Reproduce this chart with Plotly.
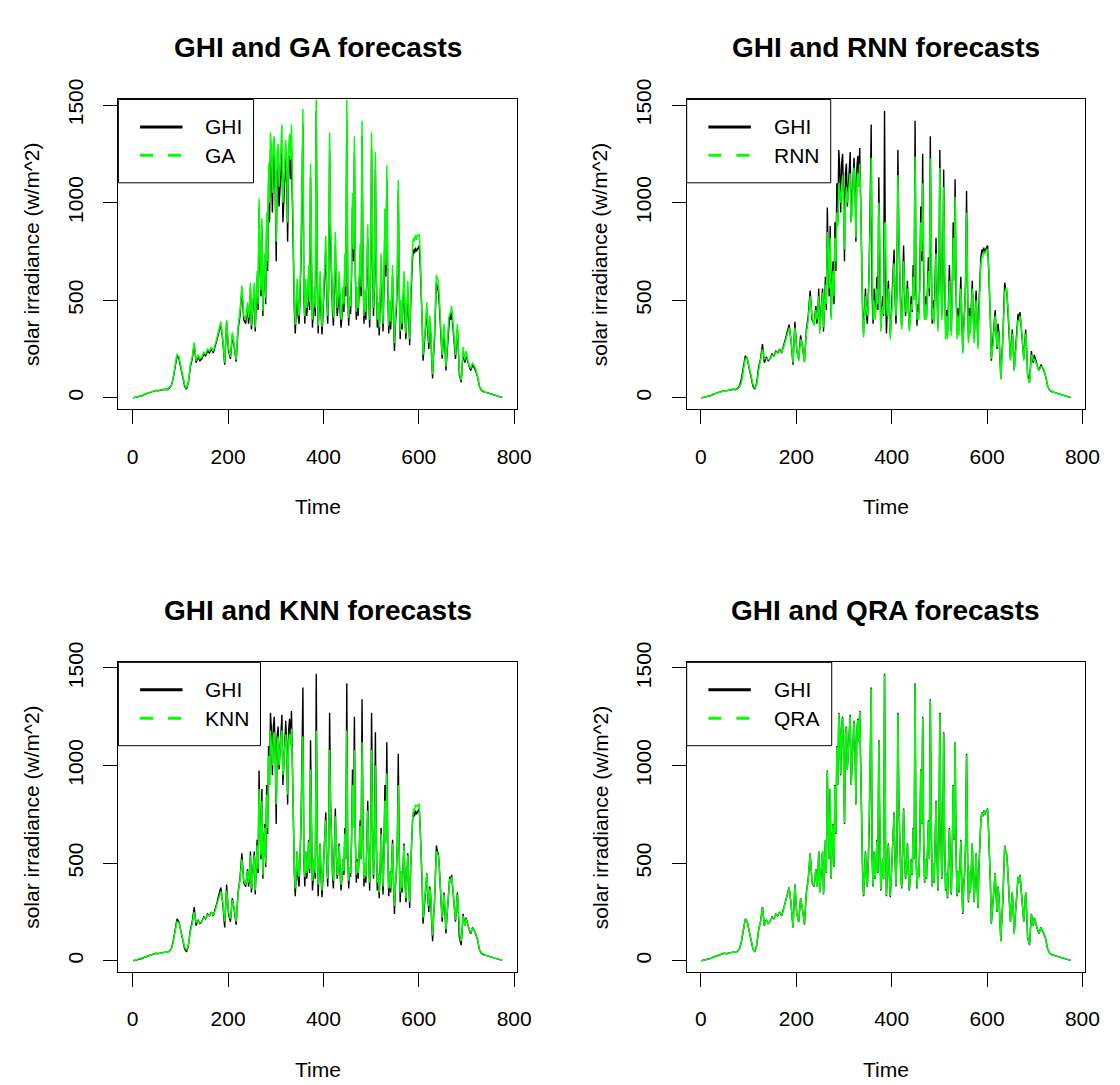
import plotly.graph_objects as go

W, H = 1120, 1085

# ---------------- data ----------------
# time index: coarse at the quiet ends, every 2nd step in the busy middle
TIME = list(range(1, 241, 4)) + list(range(241, 721, 2)) + list(range(723, 776, 4))

GHI = [0,2,5,8,10,12,18,22,26,30,33,35,38,36,39,41,43,44,42,50,62,
       100,160,215,200,150,110,60,45,80,160,200,275,180,210,190,200,225,215,240,230,250,230,260,300,340,375,290,170,390,240,
       200,320,260,185,350,420,550,400,380,
       470,380,430,560,350,420,500,560,340,480,
       620,450,975,700,520,880,420,600,700,480,
       900,650,1100,900,1270,1180,950,1200,1250,1050,
       700,1150,1200,980,1100,1220,1260,900,1000,1150,
       1230,1100,800,1180,1240,1120,1280,1000,600,450,
       330,480,560,420,380,520,700,1020,1400,520,
       380,560,420,480,620,450,1130,700,360,440,
       520,420,1470,620,330,480,600,440,325,420,
       520,640,760,520,380,560,1270,820,560,440,
       370,520,780,540,420,480,600,450,360,430,
       520,440,680,520,1420,560,370,480,430,620,
       980,700,1250,620,400,520,420,560,720,520,
       1340,700,380,500,400,600,820,540,360,620,
       1270,700,420,560,1170,620,360,450,320,480,
       680,500,340,560,900,620,1120,560,330,460,
       350,480,620,400,240,380,450,600,1060,560,
       300,460,350,480,600,420,300,420,550,400,
       270,480,650,720,760,740,770,750,760,770,
       780,680,550,400,190,260,300,380,450,330,
       250,380,330,200,100,220,300,450,590,560,
       550,480,400,300,200,280,350,250,140,220,
       300,380,430,400,440,380,300,260,200,280,
       350,250,120,100,80,160,240,200,180,220,
       200,180,160,150,140,160,170,160,150,140,
       110,60,40,32,29,26,23,21,19,16,13,9,5,2]

GA = [0,2,6,9,11,13,19,23,27,31,34,36,39,38,40,42,44,45,44,52,64,
      105,170,225,210,160,115,65,50,85,170,210,285,190,220,200,210,235,225,250,240,260,240,270,310,350,390,300,180,400,255,
      210,335,270,195,365,440,575,420,400,
      490,410,450,590,370,450,520,590,360,510,
      650,480,1020,740,550,920,445,640,740,510,
      950,700,1200,1000,1360,1280,1050,1300,1340,1150,
      800,1250,1300,1080,1200,1320,1400,1000,1100,1250,
      1320,1200,900,1280,1350,1220,1400,1100,700,500,
      375,520,610,460,420,570,760,1100,1480,560,
      420,610,460,520,680,490,1200,760,400,480,
      570,460,1580,680,370,520,650,480,365,460,
      570,700,830,570,420,610,1360,890,610,480,
      410,570,850,590,460,520,650,490,400,470,
      570,480,740,570,1580,610,410,520,470,680,
      1050,760,1340,680,440,570,460,610,790,570,
      1420,760,420,550,440,650,890,590,400,680,
      1360,760,460,610,1260,680,400,490,360,520,
      740,550,380,610,970,680,1190,610,370,500,
      390,520,680,440,280,420,490,650,1115,610,
      340,500,380,520,650,460,330,460,600,440,
      300,520,700,780,820,800,835,810,830,835,
      840,740,600,440,220,290,330,420,490,360,
      280,420,360,220,120,240,330,490,630,610,
      600,520,440,330,220,310,380,280,160,240,
      330,410,430,440,470,410,330,280,220,300,
      380,270,130,110,90,175,260,215,195,240,
      215,195,170,160,150,170,180,170,160,150,
      115,62,42,34,30,27,24,22,20,17,14,10,5,2]

RNN = [0,1,4,7,9,11,15,21,24,28,31,33,36,36,38,40,42,43,43,47,57,
       80,140,200,205,160,120,70,50,70,140,190,250,200,200,195,198,218,217,235,232,245,235,255,290,330,360,300,180,360,250,
       190,300,270,180,330,400,520,420,370,
       450,400,440,520,330,400,470,540,360,450,
       580,480,850,780,560,820,400,560,650,520,
       820,700,950,880,1100,1050,1000,1080,1140,1000,
       760,1000,1080,1000,1050,1120,1150,900,950,1100,
       1180,1080,820,1100,1150,1080,1200,1000,650,430,
       310,440,520,450,420,480,640,900,1230,700,
       400,500,400,460,560,480,1000,820,340,420,
       470,430,890,900,480,420,560,470,300,400,
       470,600,690,560,420,520,1140,880,560,420,
       350,480,700,560,440,450,560,470,340,400,
       480,450,620,500,1235,700,400,440,400,560,
       900,750,1100,780,400,480,400,520,650,560,
       1227,800,400,460,380,540,740,600,340,560,
       1177,760,400,500,1080,700,300,420,300,440,
       600,520,320,500,820,600,1030,620,300,420,
       320,440,560,440,227,340,430,560,950,620,
       280,420,330,440,560,440,280,380,500,400,
       250,430,600,680,720,720,750,740,745,760,
       760,700,580,420,200,240,280,360,420,340,
       260,340,310,220,93,190,280,420,540,560,
       560,500,420,320,190,250,330,260,143,200,
       280,350,400,390,420,390,320,270,190,260,
       330,260,110,90,77,140,220,210,190,200,
       190,180,165,150,140,150,160,160,155,145,
       112,62,42,33,29,26,23,21,19,16,13,9,5,2]

KNN = [0,3,6,9,11,14,19,22,26,29,32,34,37,37,39,41,42,43,43,49,60,
       95,150,200,195,155,115,70,55,85,150,190,250,195,205,195,202,220,218,235,232,245,236,255,290,330,355,300,200,360,250,
       215,310,265,200,340,410,520,410,390,
       460,400,435,540,370,420,480,540,360,470,
       590,470,880,680,540,820,440,590,680,500,
       850,680,1050,900,1180,1100,1000,1150,1170,1050,
       800,1100,1150,1000,1100,1150,1180,950,1020,1120,
       1160,1080,850,1120,1160,1100,1190,1000,650,480,
       370,490,560,450,430,520,680,950,1150,540,
       430,560,450,490,610,470,980,680,410,460,
       530,450,1180,620,390,480,600,460,360,440,
       520,620,720,520,420,560,1080,780,560,460,
       410,520,740,540,440,480,590,460,390,440,
       520,460,650,520,1180,560,410,480,450,600,
       900,680,1080,600,440,510,450,560,690,520,
       1120,680,420,500,430,580,770,540,400,600,
       1080,680,440,540,1000,600,400,450,350,480,
       650,500,380,540,820,600,960,560,370,460,
       370,470,600,420,280,390,450,580,900,540,
       350,460,370,470,590,430,320,420,540,400,
       300,480,640,720,780,770,800,790,790,800,
       800,700,560,420,220,280,320,380,450,340,
       280,370,340,220,130,230,300,440,560,550,
       540,480,400,310,220,290,340,260,160,230,
       300,370,420,400,430,380,300,270,210,280,
       340,260,140,110,100,165,230,200,180,215,
       195,180,165,155,145,160,165,160,150,142,
       112,60,41,33,29,26,23,21,19,16,13,9,5,2]

QRA = [0,2,5,8,10,12,18,22,26,30,33,35,38,36,39,41,43,44,42,50,62,
       102,158,213,202,152,108,62,46,82,158,202,272,182,208,192,202,223,217,238,232,248,232,258,302,338,372,292,172,386,242,
       202,318,262,187,348,418,548,402,382,
       468,382,432,558,352,418,498,562,342,478,
       618,452,970,702,522,878,422,598,698,482,
       895,652,1095,902,1265,1182,955,1195,1245,1052,
       705,1148,1195,982,1105,1218,1255,902,1005,1148,
       1225,1102,805,1178,1235,1122,1275,1002,605,452,
       335,482,555,422,385,518,705,1018,1395,522,
       385,558,425,482,615,452,1125,702,365,442,
       525,422,1465,618,335,482,595,442,330,422,
       515,638,755,522,385,558,1265,818,565,442,
       375,518,775,542,425,482,595,452,365,432,
       515,442,675,522,1415,558,375,482,425,618,
       975,702,1245,618,405,518,425,558,715,522,
       1335,698,385,502,405,598,815,542,365,618,
       1265,702,425,558,1165,618,365,452,325,482,
       675,502,345,558,895,622,1115,562,335,462,
       355,478,615,402,245,382,455,598,1055,562,
       305,462,352,478,598,422,302,422,548,402,
       272,478,648,718,758,742,768,752,762,768,
       778,682,552,402,192,262,302,378,448,332,
       252,378,332,202,102,222,302,448,588,558,
       548,482,402,302,202,278,348,252,142,222,
       302,378,428,402,438,382,302,262,202,278,
       348,252,122,102,82,158,238,202,182,218,
       198,182,162,152,142,158,168,162,152,142,
       110,60,40,32,29,26,23,21,19,16,13,9,5,2]

X_TICKS = [0, 200, 400, 600, 800]
Y_TICKS = [0, 500, 1000, 1500]
MODELS = ["GA", "RNN", "KNN", "QRA"]
FORECASTS = [GA, RNN, KNN, QRA]

for s in [GHI] + FORECASTS:
    assert len(s) == len(TIME), (len(s), len(TIME))

# ---------------- layout helpers ----------------
FONT = "Liberation Sans, Arial, sans-serif"
GREEN = "#00FF00"
PW, PH = 404, 316
BOXES = [(120, 80), (696, 80), (120, 654), (696, 654)]
LEG_W = [137, 146, 144, 147]

def fx(px):
    return px / W

def fy(py):
    return 1 - py / H

x_lo = TIME[0] - 0.04 * (TIME[-1] - TIME[0])
x_hi = TIME[-1] + 0.04 * (TIME[-1] - TIME[0])
ymax = max(GHI)
y_lo, y_hi = -0.04 * ymax, 1.04 * ymax

fig = go.Figure()
layout = dict(width=W, height=H, margin=dict(l=0, r=0, t=0, b=0),
              paper_bgcolor="white", plot_bgcolor="white", showlegend=False,
              font=dict(family=FONT, color="black", size=21))
annotations = []
shapes = []

for i, (model, fc) in enumerate(zip(MODELS, FORECASTS)):
    k = "" if i == 0 else str(i + 1)
    L, T = BOXES[i]
    fig.add_trace(go.Scatter(x=TIME, y=GHI, mode="lines", line=dict(color="black", width=1.4),
                             xaxis="x" + k, yaxis="y" + k, name="GHI"))
    fig.add_trace(go.Scatter(x=TIME, y=fc, mode="lines", line=dict(color=GREEN, width=1.5),
                             xaxis="x" + k, yaxis="y" + k, name=model))
    axis_common = dict(showline=True, mirror=True, linecolor="black", linewidth=1,
                       ticks="outside", ticklen=14, tickcolor="black", tickwidth=1,
                       showgrid=False, zeroline=False,
                       tickfont=dict(family=FONT, size=21, color="black"))
    layout["xaxis" + k] = dict(domain=[fx(L), fx(L + PW)], range=[x_lo, x_hi],
                               anchor="y" + k, tickvals=X_TICKS, ticklabelstandoff=14,
                               **axis_common)
    layout["yaxis" + k] = dict(domain=[fy(T + PH), fy(T)], range=[y_lo, y_hi],
                               anchor="x" + k, tickvals=Y_TICKS, tickangle=-90,
                               ticklabelstandoff=12, **axis_common)
    annotations.append(dict(text="<b>GHI and %s forecasts</b>" % model, x=fx(L + PW / 2), y=fy(T - 53),
                            xref="paper", yref="paper", showarrow=False,
                            font=dict(family=FONT, size=28, color="black"),
                            xanchor="center", yanchor="middle"))
    annotations.append(dict(text="Time", x=fx(L + PW / 2), y=fy(T + PH + 99),
                            xref="paper", yref="paper", showarrow=False,
                            font=dict(family=FONT, size=21, color="black"),
                            xanchor="center", yanchor="middle"))
    annotations.append(dict(text="solar irradiance (w/m^2)", x=fx(L - 88), y=fy(T + PH / 2),
                            xref="paper", yref="paper", showarrow=False, textangle=-90,
                            font=dict(family=FONT, size=21, color="black"),
                            xanchor="center", yanchor="middle"))
    lw = LEG_W[i]
    shapes.append(dict(type="rect", xref="paper", yref="paper", x0=fx(L), x1=fx(L + lw),
                       y0=fy(T + 85), y1=fy(T), line=dict(color="black", width=1),
                       fillcolor="white", layer="above"))
    shapes.append(dict(type="line", xref="paper", yref="paper", x0=fx(L + 22), x1=fx(L + 65),
                       y0=fy(T + 28), y1=fy(T + 28), line=dict(color="black", width=3), layer="above"))
    shapes.append(dict(type="line", xref="paper", yref="paper", x0=fx(L + 22), x1=fx(L + 65),
                       y0=fy(T + 57), y1=fy(T + 57), line=dict(color=GREEN, width=3, dash="13px,15px"),
                       layer="above"))
    for txt, dy in (("GHI", 28), (model, 57)):
        annotations.append(dict(text=txt, x=fx(L + 86), y=fy(T + dy), xref="paper", yref="paper",
                                showarrow=False, xanchor="left", yanchor="middle",
                                font=dict(family=FONT, size=21, color="black")))

layout["annotations"] = annotations
layout["shapes"] = shapes
fig.update_layout(**layout)
fig.write_html("out.html", post_script="document.body.style.margin='0px';")
